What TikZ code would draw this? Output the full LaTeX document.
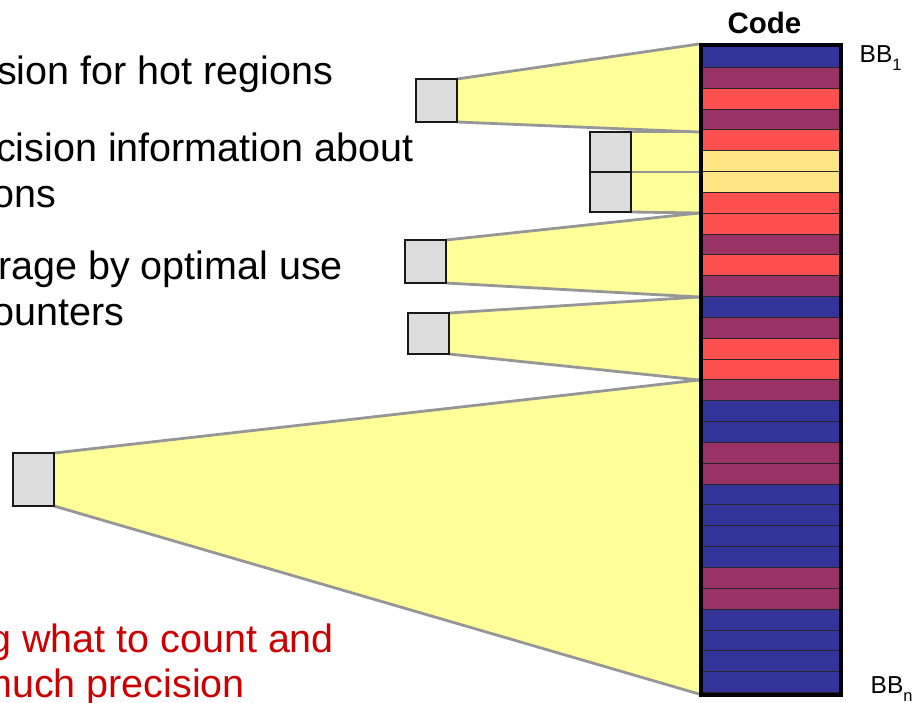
\documentclass[tikz,border=0pt]{standalone}
\usepackage{fontspec}
\setmainfont{Liberation Sans}
\usetikzlibrary{backgrounds}

\definecolor{bbblue}{HTML}{333399}
\definecolor{bbplum}{HTML}{993366}
\definecolor{bbred}{HTML}{FF5050}
\definecolor{bbgold}{HTML}{FFE583}
\definecolor{fanyellow}{HTML}{FFFF99}
\definecolor{edgegray}{HTML}{969696}
\definecolor{boxgray}{HTML}{DDDDDD}
\definecolor{alertred}{HTML}{CC0000}

\tikzset{
  ctrbox/.style={draw=black!90, line width=1.5pt, fill=boxgray, inner sep=0pt, outer sep=0pt, minimum width=41pt},
  fanfill/.style={fill=fanyellow},
  fanedge/.style={draw=edgegray, line width=2.8pt},
  stripe/.style={draw=black!85, line width=1pt},
  bigtext/.style={anchor=base west, inner sep=0pt, font=\fontsize{39.5}{46}\selectfont},
  bblabel/.style={anchor=base west, inner sep=0pt, font=\fontsize{24.5}{28}\selectfont},
}

\begin{document}
\begin{tikzpicture}[x=1pt, y=-1pt]
\useasboundingbox (0,0) rectangle (917,702);

% bullet text, cut by the page edge on the left
\node[bigtext] (t1) at (-3,84)  {sion for hot regions};
\node[bigtext] (t2) at (-4,161) {cision information about};
\node[bigtext] (t3) at (-7.5,207) {ons};
\node[bigtext] (t4) at (-2,279) {rage by optimal use};
\node[bigtext] (t5) at (-7.5,325) {ounters};
\node[bigtext, text=alertred] (t6) at (-11,652) {g what to count and};
\node[bigtext, text=alertred] (t7) at (-21,697.5) {much precision};

% counter boxes
\node[ctrbox, minimum height=43pt] (b1) at (436.5,100.5) {};
\node[ctrbox, minimum height=40pt] (b2) at (610.5,152)   {};
\node[ctrbox, minimum height=40pt] (b3) at (610.5,192)   {};
\node[ctrbox, minimum height=43pt] (b4) at (425.5,261.5) {};
\node[ctrbox, minimum height=41pt] (b5) at (428.5,333.5) {};
\node[ctrbox, minimum height=53pt] (b6) at (33.5,479.5)  {};

% points on the left side of the code column
\coordinate (k1) at (699,44);
\coordinate (k2) at (699,132);
\coordinate (k3) at (699,172);
\coordinate (k4) at (699,213);
\coordinate (k5) at (699,297);
\coordinate (k6) at (699,380);
\coordinate (k7) at (699,694);

% yellow fans from each counter to its code range
\begin{pgfonlayer}{background}
  \fill[fanfill] (b1.north east) -- (k1) -- (k2) -- (b1.south east) -- cycle;
  \fill[fanfill] (b2.north east) -- (k2) -- (k3) -- (b2.south east) -- cycle;
  \fill[fanfill] (b3.north east) -- (k3) -- (k4) -- (b3.south east) -- cycle;
  \fill[fanfill] (b4.north east) -- (k4) -- (k5) -- (b4.south east) -- cycle;
  \fill[fanfill] (b5.north east) -- (k5) -- (k6) -- (b5.south east) -- cycle;
  \fill[fanfill] (b6.north east) -- (k6) -- (k7) -- (b6.south east) -- cycle;
  \draw[fanedge] (b1.north east) -- (k1);
  \draw[fanedge] (b1.south east) -- (k2);
  \draw[fanedge] (b2.north east) -- (k2);
  \draw[fanedge] (b2.south east) -- (k3);
  \draw[fanedge] (b3.south east) -- (k4);
  \draw[fanedge] (b4.north east) -- (k4);
  \draw[fanedge] (b4.south east) -- (k5);
  \draw[fanedge] (b5.north east) -- (k5);
  \draw[fanedge] (b5.south east) -- (k6);
  \draw[fanedge] (b6.north east) -- (k6);
  \draw[fanedge] (b6.south east) -- (k7);
\end{pgfonlayer}

% basic blocks of the code column
\foreach \c [count=\i from 0] in {bbblue,bbplum,bbred,bbplum,bbred,bbgold,bbgold,bbred,bbred,bbplum,
  bbred,bbplum,bbblue,bbplum,bbred,bbred,bbplum,bbblue,bbblue,bbplum,
  bbplum,bbblue,bbblue,bbblue,bbblue,bbplum,bbplum,bbblue,bbblue,bbblue,bbblue}
  \draw[stripe, fill=\c] (702,{46.5+\i*20.84}) rectangle (839.5,{46.5+(\i+1)*20.84});

\node[draw=black, line width=4pt, inner sep=0pt, outer sep=0pt,
      minimum width=140.5pt, minimum height=650pt] (code) at (770.75,369.5) {};

\node[anchor=base, inner sep=0pt, font=\fontsize{29.5}{34}\selectfont\bfseries] (codelbl) at (764.5,33) {Code};
\node[bblabel] (bb1) at (859.5,62.5) {BB\raisebox{-7.7pt}{\fontsize{16.5}{18}\selectfont 1}};
\node[bblabel] (bbn) at (870.5,693.3) {BB\raisebox{-7.7pt}{\fontsize{16.5}{18}\selectfont n}};
\end{tikzpicture}
\end{document}
